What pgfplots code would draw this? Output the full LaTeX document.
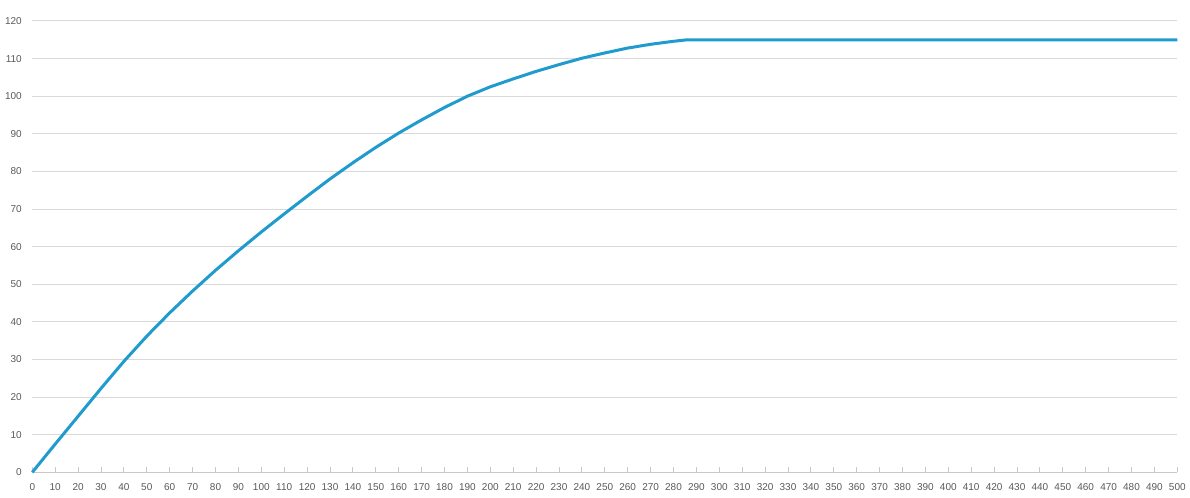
\documentclass[border=0pt]{standalone}
\usepackage{pgfplots}
\pgfplotsset{compat=1.18}
\usepackage{fontspec}
\setmainfont{Liberation Sans}
\definecolor{linecol}{RGB}{31,155,206}
\definecolor{gridcol}{RGB}{217,217,217}
\definecolor{axiscol}{RGB}{200,200,200}
\definecolor{labcol}{RGB}{89,89,89}
\begin{document}
\begin{tikzpicture}[x=1bp,y=1bp]
\useasboundingbox (0,0) rectangle (1190,498);
\begin{axis}[
  at={(32.3bp,25.7bp)}, anchor=south west,
  scale only axis,
  width=1145bp, height=451.3bp,
  xmin=0, xmax=500, ymin=0, ymax=120,
  axis x line*=bottom, axis y line*=left,
  y axis line style={draw=none},
  x axis line style={draw=axiscol, line width=1bp},
  xtick={0,10,...,500},
  ytick={0,10,...,120},
  tick align=inside,
  major tick length=5bp,
  xtick style={draw=axiscol, line width=1bp},
  ytick style={draw=none},
  ymajorgrids,
  major grid style={draw=gridcol, line width=1bp},
  /pgf/number format/assume math mode=true,
  font=\fontsize{10bp}{12bp}\selectfont,
  tick label style={text=labcol, inner sep=0pt},
  xticklabel style={anchor=center, yshift=-15bp},
  yticklabel style={anchor=east, xshift=-10.3bp},
  clip=false,
]
\addplot[linecol, line width=3bp, line join=round] coordinates {
(0,0) (10,7.5) (20,14.9) (30,22.3) (40,29.5) (50,36.2) (60,42.4) (70,48.2)
(80,53.7) (90,58.9) (100,63.9) (110,68.7) (120,73.4) (130,78.0) (140,82.3)
(150,86.4) (160,90.2) (170,93.7) (180,97.0) (190,100.0) (200,102.5) (210,104.6)
(220,106.6) (230,108.4) (240,110.1) (250,111.5) (260,112.8) (270,113.8)
(280,114.6) (286,115) (290,115) (300,115) (350,115) (400,115) (450,115) (500,115)
};
\end{axis}
\end{tikzpicture}
\end{document}
